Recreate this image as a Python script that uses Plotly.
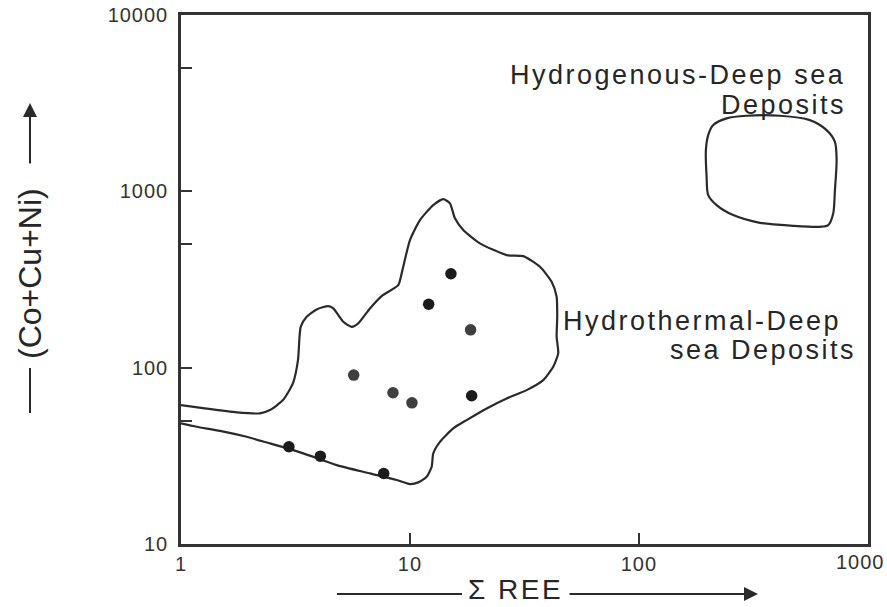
import plotly.graph_objects as go

# Field outlines (ΣREE vs Co+Cu+Ni, ppm)
hydrothermal_ree = [1.0, 1.248, 1.751, 2.213, 2.447, 2.789, 3.084, 3.243, 3.332, 3.539, 3.913, 4.398,
                    4.626, 5.112, 5.565, 5.946, 6.688, 7.522, 8.890, 9.200, 10.0, 11.06, 12.64, 13.98,
                    14.95, 15.72, 17.09, 20.22, 26.44, 31.25, 36.96, 41.57, 43.71, 43.97, 43.71, 44.41,
                    42.24, 38.20, 32.33, 26.44, 21.63, 17.68, 15.46, 13.52, 12.64, 12.44, 11.83, 10.87,
                    10.0, 8.748, 6.688, 4.786, 3.420, 2.447, 1.936, 1.480, 1.171, 1.0]
hydrothermal_ccn = [61.4, 59.0, 55.8, 55.1, 57.5, 65.5, 81.8, 110.4, 170.6, 194.4, 214.1, 223.6,
                    216.9, 182.1, 170.6, 178.4, 216.9, 254.8, 294.1, 342.6, 529.5, 687.6, 836.3, 904.3,
                    855.0, 703.2, 603.3, 507.0, 435.2, 429.5, 373.5, 307.0, 252.5, 194.4, 149.7, 120.5,
                    101.2, 85.05, 74.6, 66.95, 58.76, 50.45, 45.27, 37.99, 32.65, 27.41, 24.06, 22.36,
                    21.87, 23.05, 25.15, 28.03, 32.65, 37.2, 40.56, 43.86, 46.22, 48.3]

hydrogenous_ree = [200.7, 211.1, 241.5, 295.4, 412.8, 558.1, 660.2, 717.8, 730.1, 717.8, 705.6,
                   670.9, 617.2, 471.8, 337.6, 258.1, 218.4, 200.7, 197.5, 196.1, 200.7]
hydrogenous_ccn = [2086, 2378, 2595, 2685, 2685, 2537, 2227, 1911, 1505, 1017, 750.3,
                   643.9, 629.8, 638.1, 663.5, 733.8, 836.3, 952.8, 1210, 1715, 2086]

# Samples
dark_ree = [2.96, 4.06, 7.68, 12.07, 15.1, 18.6]
dark_ccn = [35.6, 31.5, 25.1, 229, 341, 69.3]
grey_ree = [5.68, 8.43, 10.2, 18.4]
grey_ccn = [90.8, 72.1, 63.2, 164]

x_tickvals = [1, 10, 100, 1000]
x_ticktext = ["1", "10", "100", ""]   # the last label is placed separately, tucked inside the edge
x_last_label = "1000"
y_tickvals = [10, 50, 100, 500, 1000, 5000, 10000]
y_ticktext = ["10", "", "100", "", "1000", "", "10000"]

INK = "#2a2a2a"
FONT = "Liberation Sans, Arial, Helvetica, sans-serif"
TICK_FONT = dict(family=FONT, size=20, color="#333333")


def spaced(s, px):
    return f'<span style="letter-spacing:{px}px">{s}</span>' if s else s


fig = go.Figure()

fig.add_trace(go.Scatter(x=hydrothermal_ree, y=hydrothermal_ccn, mode="lines",
                         line=dict(color=INK, width=2.2, shape="spline", smoothing=0.6),
                         hoverinfo="skip"))
fig.add_trace(go.Scatter(x=hydrogenous_ree, y=hydrogenous_ccn, mode="lines",
                         line=dict(color=INK, width=2.2, shape="spline", smoothing=0.8),
                         hoverinfo="skip"))
fig.add_trace(go.Scatter(x=dark_ree, y=dark_ccn, mode="markers",
                         marker=dict(size=11.5, color="#1b1b1b")))
fig.add_trace(go.Scatter(x=grey_ree, y=grey_ccn, mode="markers",
                         marker=dict(size=11.5, color="#3f3f3f")))

axis_common = dict(type="log", showgrid=False, zeroline=False, showline=True, automargin=False,
                   linecolor="#333333", linewidth=2.5, mirror=True,
                   ticks="inside", ticklen=11, tickwidth=2, tickcolor="#333333",
                   tickfont=TICK_FONT)

fig.update_xaxes(range=[0, 3.0005], tickmode="array", tickvals=x_tickvals,
                 ticktext=[spaced(t, 1) for t in x_ticktext], **axis_common)
fig.update_yaxes(range=[1, 4.0005], tickmode="array", tickvals=y_tickvals,
                 ticktext=[spaced(t, 1) for t in y_ticktext], ticklabelstandoff=6,
                 **axis_common)

fig.add_annotation(xref="paper", yref="paper", x=0.9884, y=-0.0095, xanchor="center", yanchor="top",
                   text=spaced(x_last_label, 1), showarrow=False, font=TICK_FONT)

label_font = dict(family=FONT, size=27, color="#262626")
annotations = [
    dict(text=spaced("Hydrogenous-Deep sea", 2.5), x=0.9694, y=0.8866, xanchor="right", yanchor="middle"),
    dict(text=spaced("Deposits", 2.5), x=0.9709, y=0.8299, xanchor="right", yanchor="middle"),
    dict(text=spaced("Hydrothermal-Deep", 2.5), x=0.9636, y=0.4216, xanchor="right", yanchor="middle"),
    dict(text=spaced("sea Deposits", 2.5), x=0.9854, y=0.3667, xanchor="right", yanchor="middle"),
]
for a in annotations:
    fig.add_annotation(xref="paper", yref="paper", showarrow=False, font=label_font, **a)

# x-axis title
fig.add_annotation(xref="paper", yref="paper", x=0.4876, y=-0.1191, xanchor="center", yanchor="bottom",
                   text=spaced("Σ REE", 2.5), showarrow=False,
                   font=dict(family=FONT, size=28, color="#262626"))

# y-axis title, rotated
fig.add_annotation(xref="paper", yref="paper", x=-0.2198, y=0.5123, text="(Co+Cu+Ni)",
                   textangle=-90, showarrow=False, xanchor="center", yanchor="middle",
                   font=dict(family=FONT, size=32, color="#262626"))

# arrows beside the axis titles
fig.add_annotation(xref="paper", yref="paper", x=0.8399, y=-0.0945, ax=-190, ay=0, text="",
                   showarrow=True, arrowhead=2, arrowsize=1.4, arrowwidth=2, arrowcolor=INK)
fig.add_annotation(xref="paper", yref="paper", x=-0.2198, y=0.8336, ax=0, ay=62, text="",
                   showarrow=True, arrowhead=2, arrowsize=1.4, arrowwidth=2, arrowcolor=INK)
fig.add_shape(type="line", xref="paper", yref="paper", x0=0.2271, x1=0.409, y0=-0.0945, y1=-0.0945,
              line=dict(color=INK, width=2))
fig.add_shape(type="line", xref="paper", yref="paper", x0=-0.2198, x1=-0.2198, y0=0.3327, y1=0.2476,
              line=dict(color=INK, width=2))

fig.update_layout(width=887, height=607, margin=dict(l=181, r=19, t=15, b=63, autoexpand=False),
                  paper_bgcolor="white", plot_bgcolor="white", showlegend=False)

fig.write_html("out.html")
